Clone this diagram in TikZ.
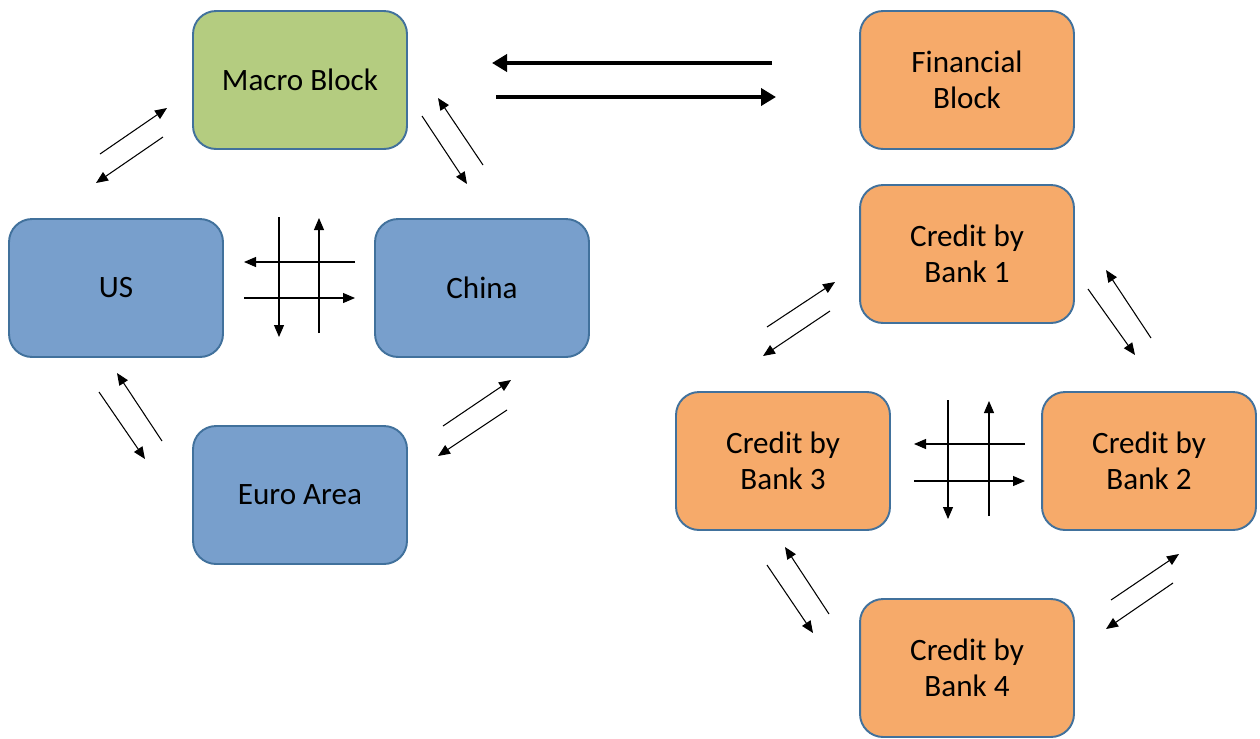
\documentclass[tikz,border=0pt]{standalone}
\usepackage{fontspec}
\setmainfont{Carlito}
\usetikzlibrary{arrows.meta}
\definecolor{macrogreen}{RGB}{180,204,128}
\definecolor{countryblue}{RGB}{120,159,204}
\definecolor{bankorange}{RGB}{246,170,106}
\definecolor{boxedge}{RGB}{65,113,156}
\begin{document}
\begin{tikzpicture}[x=.02cm,y=-.02cm,
  block/.style={draw=boxedge,line width=1.1pt,rounded corners=.46cm,minimum width=4.28cm,minimum height=2.76cm,align=center,font=\fontsize{17.7}{20.5}\selectfont},
  flow/.style={line width=.6pt,-{Triangle[length=.24cm,width=.2cm]}},
  bigflow/.style={line width=2.8pt,-{Triangle[length=.3cm,width=.34cm]}}]
\useasboundingbox (0,0) rectangle (1260,738);
% macro side
\node[block,fill=macrogreen] (macro) at (300,80) {Macro Block};
\node[block,fill=countryblue] (us) at (116,288) {US};
\node[block,fill=countryblue] (china) at (482,288) {China};
\node[block,fill=countryblue] (euro) at (300,495) {Euro Area};
% financial side
\node[block,fill=bankorange] (fin) at (967,80) {Financial\\Block};
\node[block,fill=bankorange] (bank1) at (967,254) {Credit by\\Bank 1};
\node[block,fill=bankorange] (bank3) at (783,461) {Credit by\\Bank 3};
\node[block,fill=bankorange] (bank2) at (1149,461) {Credit by\\Bank 2};
\node[block,fill=bankorange] (bank4) at (967,668) {Credit by\\Bank 4};
% links between the two blocks
\coordinate (mf1-s) at (772,63);\coordinate (mf1-e) at (492,63);
\coordinate (mf2-s) at (496,97);\coordinate (mf2-e) at (776,97);
\draw[bigflow] (mf1-s)--(mf1-e);\draw[bigflow] (mf2-s)--(mf2-e);
% pairs of thin arrows
\foreach \n/\ax/\ay/\bx/\by in {mu1/100/154/167/108,mu2/163/137/96/183,
  mc1/422/116/467/184,mc2/483/165/438/98,ue1/99/392/145/459,ue2/162/441/117/373,
  ce1/443/426/511/380,ce2/507/410/438/456,
  uc1/279/217/279/337,uc2/319/333/319/218,uc3/355/262/244/262,uc4/244/298/355/298,
  b13a/767/327/835/282,b13b/830/311/763/356,b12a/1088/289/1135/355,b12b/1151/338/1106/270,
  b34a/767/565/813/633,b34b/829/614/785/547,b24a/1111/600/1179/554,b24b/1173/583/1106/629,
  b23a/948/400/948/519,b23b/989/516/989/401,b23c/1025/444/914/444,b23d/914/481/1025/481}
  {\coordinate (\n-s) at (\ax,\ay);\coordinate (\n-e) at (\bx,\by);\draw[flow] (\n-s)--(\n-e);}
\end{tikzpicture}
\end{document}
